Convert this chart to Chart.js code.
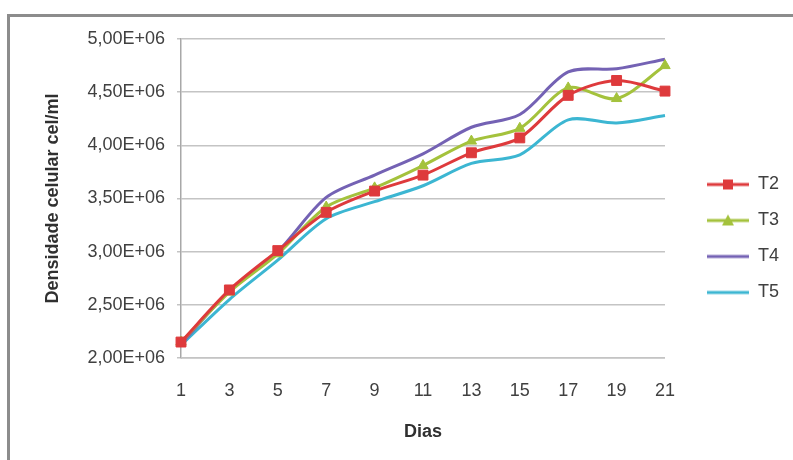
<!DOCTYPE html>
<html>
<head>
<meta charset="utf-8">
<script src="https://cdn.jsdelivr.net/npm/chart.js@4.4.0/dist/chart.umd.min.js"></script>
<style>
  html, body { margin: 0; padding: 0; background: #fff; overflow: hidden; }
  #wrap { position: relative; width: 793px; height: 460px; }
  #frame {
    position: absolute; left: 7px; top: 14px; width: 820px; height: 480px;
    border-left: 3px solid #8c8c8c; border-top: 3px solid #8c8c8c;
  }
  #chart { position: absolute; left: 0; top: 0; }
</style>
</head>
<body>
<div id="wrap">
  <div id="frame"></div>
  <canvas id="chart" width="793" height="460"></canvas>
</div>
<script>
// days of culture
const days = ['1', '3', '5', '7', '9', '11', '13', '15', '17', '19', '21'];

// cell density (cel/ml)
const t2 = [2.15e6, 2.64e6, 3.01e6, 3.37e6, 3.57e6, 3.72e6, 3.93e6, 4.07e6, 4.47e6, 4.61e6, 4.51e6];
const t3 = [2.15e6, 2.62e6, 2.98e6, 3.42e6, 3.60e6, 3.81e6, 4.04e6, 4.16e6, 4.54e6, 4.44e6, 4.75e6];
const t4 = [2.13e6, 2.63e6, 3.00e6, 3.51e6, 3.72e6, 3.92e6, 4.17e6, 4.29e6, 4.69e6, 4.72e6, 4.81e6];
const t5 = [2.12e6, 2.55e6, 2.92e6, 3.31e6, 3.47e6, 3.62e6, 3.83e6, 3.91e6, 4.24e6, 4.21e6, 4.28e6];

const yTickLabels = ['2,00E+06', '2,50E+06', '3,00E+06', '3,50E+06', '4,00E+06', '4,50E+06', '5,00E+06'];

const FONT = 'Liberation Sans';
const TEXT = '#404040';
const PAD_BOTTOM = 22;

// line+marker pictures for the legend, Excel style (blank strip on the left)
function legendIcon(color, marker) {
  const c = document.createElement('canvas');
  c.width = 66;
  c.height = 14;
  const g = c.getContext('2d');
  g.strokeStyle = color;
  g.lineWidth = 3;
  g.beginPath();
  g.moveTo(24, 7);
  g.lineTo(66, 7);
  g.stroke();
  g.fillStyle = color;
  if (marker === 'rect') {
    g.fillRect(40, 2, 10, 10);
  } else if (marker === 'triangle') {
    g.beginPath();
    g.moveTo(45, 1);
    g.lineTo(51, 12);
    g.lineTo(39, 12);
    g.closePath();
    g.fill();
  }
  return c;
}

const series = [
  { label: 'T2', data: t2, color: '#de3a3c', marker: 'rect', radius: 7 },
  { label: 'T3', data: t3, color: '#a4c23c', marker: 'triangle', radius: 6 },
  { label: 'T4', data: t4, color: '#7462b4', marker: false, radius: 0 },
  { label: 'T5', data: t5, color: '#3cb6d2', marker: false, radius: 0 }
];

const ctx = document.getElementById('chart').getContext('2d');
new Chart(ctx, {
  type: 'line',
  data: {
    labels: days,
    datasets: series.map(s => ({
      label: s.label,
      data: s.data,
      borderColor: s.color,
      backgroundColor: s.color,
      borderWidth: 3,
      tension: 0.3,
      pointStyle: s.marker,
      pointRadius: s.radius,
      pointBorderWidth: 1,
      pointBackgroundColor: s.color,
      pointBorderColor: s.color
    }))
  },
  options: {
    responsive: false,
    animation: false,
    layout: {
      padding: { left: 38, top: 39, right: 4, bottom: PAD_BOTTOM }
    },
    scales: {
      x: {
        offset: false,
        grid: { display: false, drawTicks: false },
        border: { display: true, color: '#d0d0d0', width: 1 },
        ticks: {
          color: TEXT,
          padding: 22,
          maxRotation: 0,
          font: { family: FONT, size: 18 }
        },
        title: {
          display: true,
          text: 'Dias',
          color: '#303030',
          padding: { top: 4, bottom: -5 },
          font: { family: FONT, size: 18, weight: 'bold' }
        },
        afterFit: function(scale) {
          scale.height = 460 - 358 - PAD_BOTTOM;
        }
      },
      y: {
        min: 2000000,
        max: 5000000,
        grid: { color: '#c4c4c4', lineWidth: 1.5, tickLength: 4 },
        border: { display: true, color: '#a8a8a8', width: 1.5 },
        ticks: {
          stepSize: 500000,
          color: TEXT,
          padding: 12,
          font: { family: FONT, size: 18 },
          callback: function(value, index) {
            return yTickLabels[index];
          }
        },
        title: {
          display: true,
          text: 'Densidade celular cel/ml',
          color: '#303030',
          font: { family: FONT, size: 18, weight: 'bold' }
        },
        afterFit: function(scale) {
          scale.width = 181 - 38;
        }
      }
    },
    plugins: {
      legend: {
        position: 'right',
        labels: {
          usePointStyle: true,
          pointStyleWidth: 66,
          padding: 18,
          color: TEXT,
          font: { family: FONT, size: 18 },
          generateLabels: function(chart) {
            return chart.data.datasets.map((ds, i) => ({
              text: ds.label,
              pointStyle: legendIcon(series[i].color, series[i].marker),
              fillStyle: series[i].color,
              strokeStyle: series[i].color,
              lineWidth: 0,
              hidden: false,
              fontColor: TEXT,
              datasetIndex: i
            }));
          }
        }
      },
      tooltip: { enabled: false }
    }
  }
});
</script>
</body>
</html>
